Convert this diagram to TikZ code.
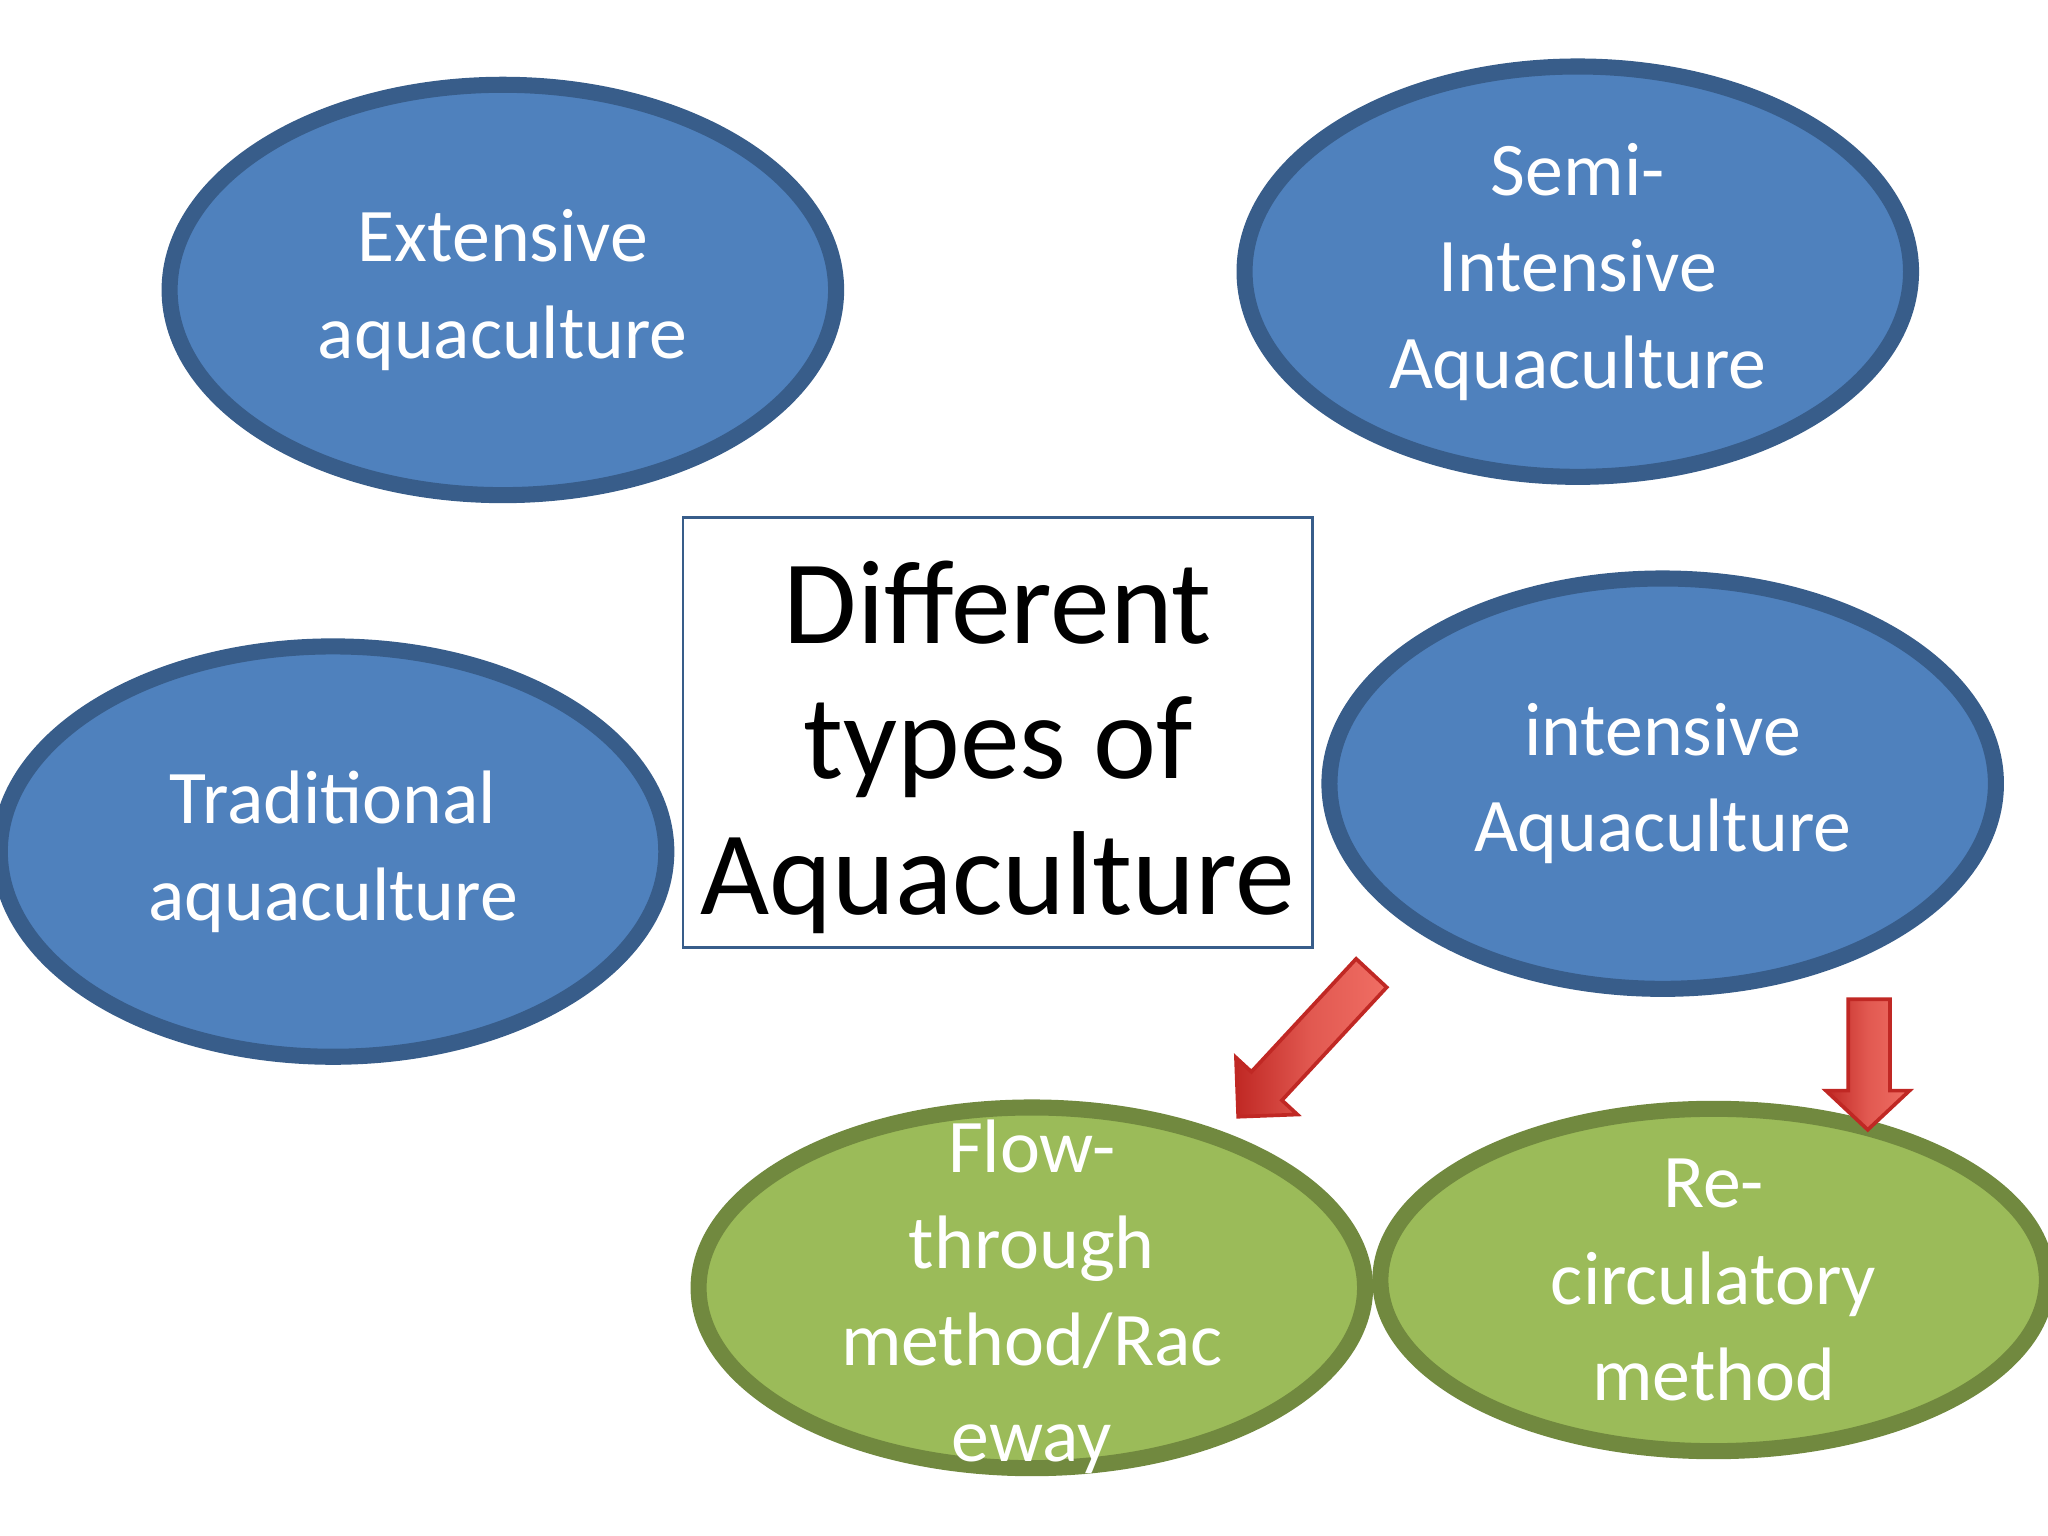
\documentclass[tikz,border=0pt]{standalone}
\usepackage{fontspec}
\setmainfont{Carlito}
\usetikzlibrary{shapes.geometric}
\definecolor{bfill}{RGB}{79,129,189}
\definecolor{bdraw}{RGB}{56,93,138}
\definecolor{gfill}{RGB}{155,187,89}
\definecolor{gdraw}{RGB}{113,137,63}
\definecolor{rdark}{RGB}{192,40,36}
\definecolor{rlight}{RGB}{240,110,100}
\tikzset{
 oval/.style={ellipse,draw=bdraw,fill=bfill,line width=3.5pt,text=white,align=center,
   font=\fontsize{16.5}{21}\selectfont,inner sep=0pt,minimum width=5.1cm,minimum height=3.14cm},
 goval/.style={oval,draw=gdraw,fill=gfill},
 redarrow/.style={draw=rdark,line width=0.8pt,left color=rdark,right color=rlight,middle color=rlight!70!rdark}
}
\begin{document}
\begin{tikzpicture}[x=0.01cm,y=-0.01cm]
\useasboundingbox (0,0) rectangle (1568,1176);
\node[oval] (ext) at (385,222) {Extensive\\aquaculture};
\node[oval] (semi) at (1208,208) {Semi-\\Intensive\\Aquaculture};
\node[oval] (trad) at (255,652) {Traditional\\aquaculture};
\node[oval] (int) at (1273,600) {intensive\\Aquaculture};
\node[goval,minimum height=2.76cm] (flow) at (790,986) {};
\node[text=white,align=center,font=\fontsize{16.5}{21}\selectfont] (flowt) at (790,993) {Flow-\\through\\method/Rac\\eway};
\node[goval,minimum height=2.6cm] (rec) at (1312,980) {Re-\\circulatory\\method};
\node[draw=bdraw,line width=0.6pt,fill=white,minimum width=4.82cm,minimum height=3.29cm,align=center,
  font=\fontsize{26}{29.5}\selectfont] (box) at (764,561) {};
\node[align=center,font=\fontsize{26}{29.5}\selectfont] (boxt) at (764,572) {Different\\types of\\Aquaculture};
% vertical arrow
\draw[redarrow] (1415,765) -- (1447,765) -- (1447,835) -- (1462,835) -- (1430,865) -- (1398,835) -- (1415,835) -- cycle;
% diagonal arrow
\draw[redarrow] (948,855) -- (946.3,809.7) -- (958.1,820.6) -- (1038.3,734.1) -- (1061.7,755.9) -- (981.5,842.4) -- (993.3,853.3) -- cycle;
\end{tikzpicture}
\end{document}
